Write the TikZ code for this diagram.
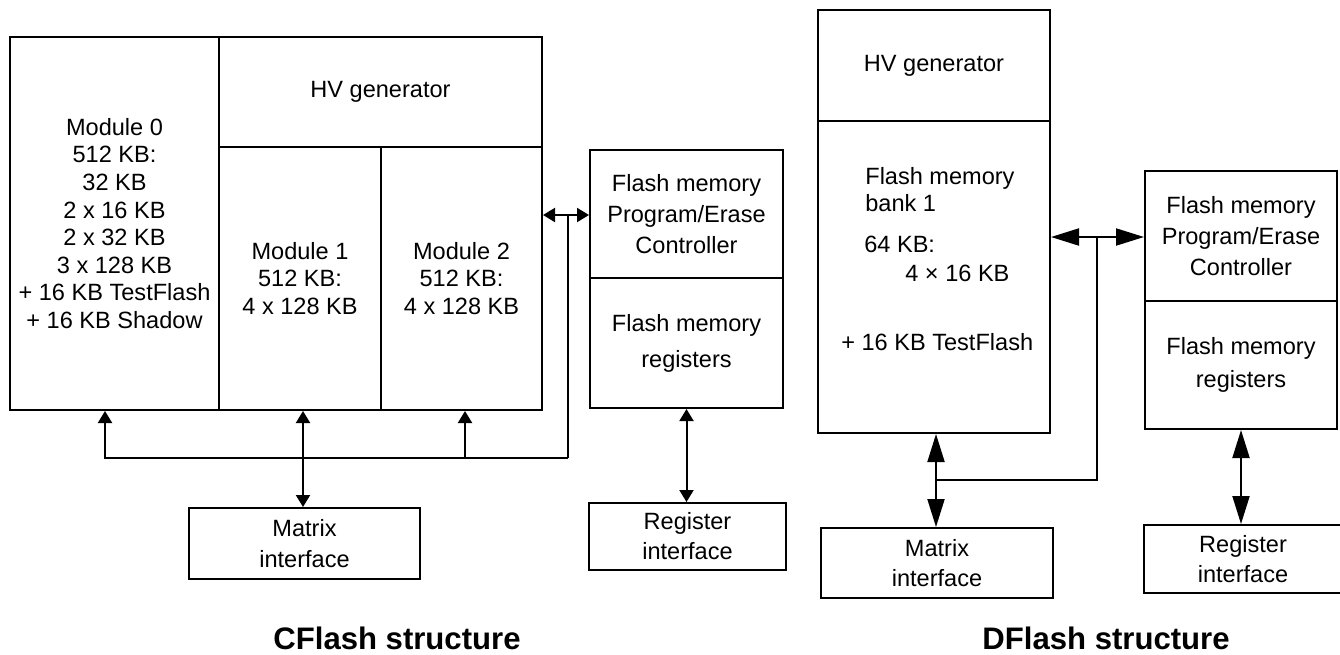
\documentclass[tikz,border=0pt]{standalone}
\usepackage{fontspec}
\setmainfont{Liberation Sans}
\usetikzlibrary{arrows.meta}
\tikzset{
  blk/.style  = {rectangle, draw=black, line width=0.4mm, inner sep=0pt,
                 align=center, font=\fontsize{13.4pt}{15.7pt}\selectfont},
  txt/.style  = {inner sep=0pt, font=\fontsize{13.4pt}{15.7pt}\selectfont},
  ttl/.style  = {inner sep=0pt, font=\fontsize{17.7pt}{20pt}\selectfont\bfseries},
  lnk/.style  = {line width=0.4mm, draw=black},
  sone/.style = {lnk, -{Triangle[length=2.4mm, width=2.8mm]}},
  sdbl/.style = {lnk, {Triangle[length=2.4mm, width=2.8mm]}-{Triangle[length=2.4mm, width=2.8mm]}},
  bdbl/.style = {lnk, {Triangle[length=5.6mm, width=3.4mm]}-{Triangle[length=5.6mm, width=3.4mm]}},
}

\begin{document}
\begin{tikzpicture}[x=0.2mm, y=-0.2mm]
  \useasboundingbox (0,0) rectangle (1340,654);

  % CFlash
  \node[blk, minimum width=41.8mm, minimum height=74.6mm] (mod0) at (114.5,223.5)
    {Module 0\\512 KB:\\32 KB\\2 x 16 KB\\2 x 32 KB\\3 x 128 KB\\+ 16 KB TestFlash\\+ 16 KB Shadow};
  \node[blk, minimum width=64.6mm, minimum height=22mm] (hvC) at (380.5,92) {HV generator};
  \node[blk, minimum width=32.4mm, minimum height=52.6mm] (mod1) at (300,278.5) {Module 1\\512 KB:\\4 x 128 KB};
  \node[blk, minimum width=32.2mm, minimum height=52.6mm] (mod2) at (461.5,278.5) {Module 2\\512 KB:\\4 x 128 KB};
  \node[blk, minimum width=38.6mm, minimum height=25.6mm] (ctrlC) at (686.5,214)
    {Flash memory\\[2pt]Program/Erase\\[2pt]Controller};
  \node[blk, minimum width=38.6mm, minimum height=26mm] (regsC) at (686.5,343)
    {Flash memory\\[4.7pt]registers};
  \node[blk, minimum width=46.2mm, minimum height=14.2mm] (matC) at (304.5,543.5) {Matrix\\[1.9pt]interface};
  \node[blk, minimum width=39.4mm, minimum height=13.4mm] (regC) at (687.5,536.5) {Register\\[1.3pt]interface};

  \coordinate (jC) at (568,215);
  \coordinate (busC) at (568,458);

  \draw[sdbl] (mod2.east |- jC) -- (ctrlC.west |- jC);
  \draw[lnk] (jC) -- (busC);
  \draw[sone] (busC) -| ([xshift=-1.9mm]mod0.south);
  \draw[sone] (busC -| mod2.south) ++(0.7mm,0) -- ([xshift=0.7mm]mod2.south);
  \draw[sdbl] ([xshift=0.6mm]mod1.south) -- ([xshift=0.6mm]mod1.south |- matC.north);
  \draw[sdbl] (regsC.south) -- (regsC.south |- regC.north);

  \node[ttl, anchor=base] (cttl) at (397,649) {CFlash structure};

  % DFlash
  \node[blk, minimum width=46.4mm, minimum height=22.2mm] (hvD) at (934,65.5) {HV generator};
  \node[blk, minimum width=46.4mm, minimum height=62.4mm] (bankD) at (934,277) {};
  \node[txt, anchor=base west] (bk1) at (865,184.5) {Flash memory};
  \node[txt, anchor=base west] (bk2) at (865,211.5) {bank 1};
  \node[txt, anchor=base west] (bk3) at (864,252.5) {64 KB:};
  \node[txt, anchor=base west] (bk4) at (905,281.5) {4 × 16 KB};
  \node[txt, anchor=base west] (bk5) at (841,350.5) {+ 16 KB TestFlash};
  \node[blk, minimum width=38.4mm, minimum height=26mm] (ctrlD) at (1241,236)
    {Flash memory\\[2pt]Program/Erase\\[2pt]Controller};
  \node[blk, minimum width=38.4mm, minimum height=25.6mm] (regsD) at (1241,365)
    {Flash memory\\[3pt]registers};
  \node[blk, minimum width=46.4mm, minimum height=14mm] (matD) at (937,563) {Matrix\\[1pt]interface};
  \node[blk, minimum width=39.6mm, minimum height=13.6mm] (regD) at (1243,559) {Register\\[1pt]interface};

  \coordinate (jD) at (1097,237);
  \coordinate (busD) at (1097,480);

  \draw[bdbl] (bankD.east |- jD) -- (ctrlD.west |- jD);
  \draw[lnk] (jD) -- (busD) -- ([xshift=0.4mm]bankD.south |- busD);
  \draw[bdbl] ([xshift=0.4mm]bankD.south) -- ([xshift=0.4mm]bankD.south |- matD.north);
  \draw[bdbl] (regsD.south) -- (regsD.south |- regD.north);

  \node[ttl, anchor=base] (dttl) at (1106,649) {DFlash structure};
\end{tikzpicture}
\end{document}
